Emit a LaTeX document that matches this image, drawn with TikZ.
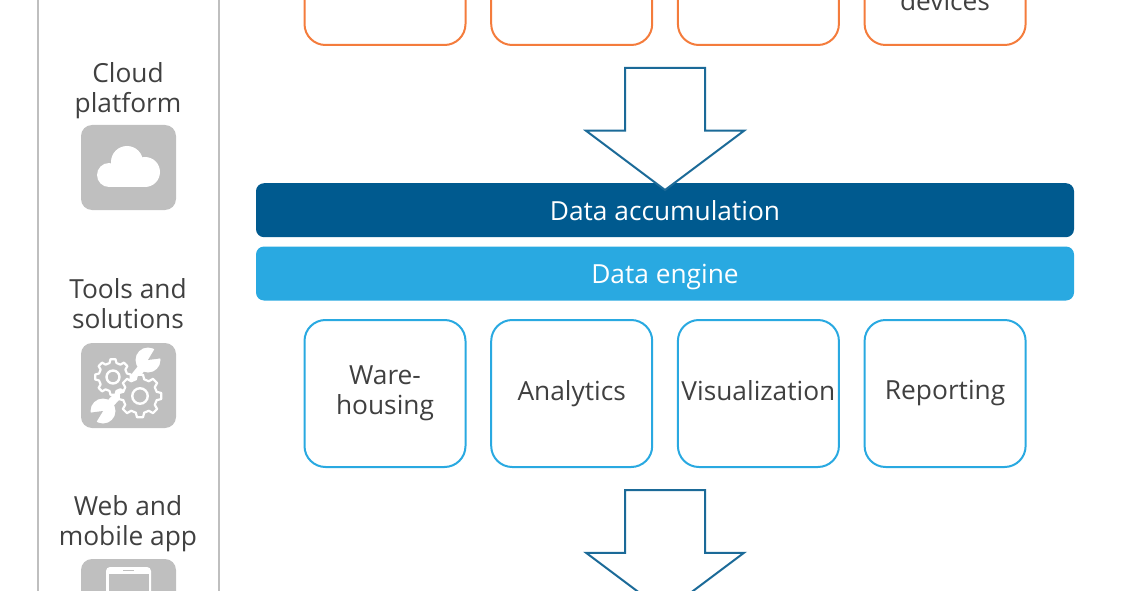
\documentclass[tikz,border=0pt]{standalone}
\usepackage{fontspec}
\setmainfont{Open Sans}
\usepackage{xcolor}
\usetikzlibrary{shapes,arrows,positioning,calc}

\definecolor{darkbar}{HTML}{005A8F}
\definecolor{lightbar}{HTML}{29A9E1}
\definecolor{orangeline}{HTML}{F47C3C}
\definecolor{arrowline}{HTML}{1B6A98}
\definecolor{tilegray}{HTML}{BFBFBF}
\definecolor{textgray}{HTML}{404040}

\newcommand{\geargraphic}[3]{%
  \begin{scope}[shift={(#1,#2)}]
    \draw[white, line width=2.2pt, fill=tilegray, line join=round]
      (-14:#3*0.8) \foreach \a in {0,45,...,315} {
        -- (\a-14:#3*0.8) -- (\a-8:#3) -- (\a+8:#3) -- (\a+14:#3*0.8)
      } -- cycle;
    \draw[white, line width=2.4pt] (0,0) circle ({#3*0.36});
  \end{scope}}

\newcommand{\wrenchgraphic}[5]{%
  \draw[white, line width=8pt] (#1,#2) -- (#3,#4);
  \fill[white] (#3,#4) circle (12.5);
  \fill[tilegray] (#3,#4) -- ++(#5-24:17) -- ++(#5+90:15) -- cycle;}

\begin{document}
\begin{tikzpicture}[x=1pt, y=-1pt, node distance=25.7pt,
    txt/.style={font=\fontsize{26.3}{30}\selectfont, text=textgray, align=center},
    sidelabel/.style={txt, inner sep=0pt},
    panelbox/.style={rectangle, draw=tilegray, line width=2.4pt, minimum width=181pt, minimum height=700pt, outer sep=0pt},
    tile/.style={rectangle, fill=tilegray, rounded corners=11pt, minimum width=95pt, minimum height=85pt, inner sep=0pt, outer sep=0pt},
    bar/.style={rectangle, rounded corners=8pt, minimum width=818pt, minimum height=54pt, inner sep=0pt, outer sep=0pt, text=white, text height=22pt, text depth=3pt, font=\fontsize{26.3}{30}\selectfont},
    stepbox/.style={rectangle, draw, line width=2pt, rounded corners=21pt, fill=white, minimum width=161pt, minimum height=147pt, inner sep=0pt, outer sep=0pt, txt},
    blockarrow/.style={single arrow, draw=arrowline, fill=white, line width=2pt, rotate=-90, anchor=tip, minimum width=157pt, minimum height=122pt, single arrow head extend=39pt, single arrow tip angle=106.26, inner xsep=0pt, inner ysep=39pt, outer sep=0pt}]

    \useasboundingbox (0,0) rectangle (1130,591);
    \clip (0,0) rectangle (1130,591);

    % left panel
    \node[panelbox] (panel) at (128.5,296) {};
    \node[sidelabel] (cloudlabel) at (128,91) {Cloud\\platform};
    \node[tile] (cloudtile) at (128.5,167.5) {};
    \node[sidelabel] (toolslabel) at (128,304) {Tools and\\solutions};
    \node[tile] (toolstile) at (128.5,385.5) {};
    \node[sidelabel] (weblabel) at (128,524) {Web and\\mobile app};
    \node[tile] (webtile) at (128.5,601.5) {};

    % cloud
    \fill[white] (127,162) circle (16);
    \fill[white] (109,175) circle (12);
    \fill[white] (145,172) circle (15);
    \fill[white] (109,165) rectangle (145,187);

    % tools
    \wrenchgraphic{128}{385}{148}{360}{-35}
    \wrenchgraphic{128}{385}{103}{411}{145}
    \geargraphic{113}{377}{18}
    \geargraphic{140}{396}{21.5}

    % phone
    \fill[white, rounded corners=4pt] (106,567) rectangle (151,610);
    \fill[tilegray] (108.5,574) rectangle (148.5,610);
    \draw[tilegray, line width=1pt] (123,570.5) -- (134,570.5);

    % top row
    \node[stepbox, draw=orangeline] (src1) at (385,-28.5) {};
    \node[stepbox, draw=orangeline, right=of src1] (src2) {};
    \node[stepbox, draw=orangeline, right=of src2] (src3) {};
    \node[stepbox, draw=orangeline, right=of src3] (src4) {};
    \node[txt, inner sep=0pt] (devices) at (945,1) {devices};

    % bars
    \node[bar, fill=darkbar, text height=24pt] (accum) at (665,210.2) {Data accumulation};
    \node[bar, fill=lightbar, below=9.3pt of accum] (engine) {Data engine};

    % bottom row
    \node[stepbox, draw=lightbar] (out1) at (385,393.5) {Ware-\\housing};
    \node[stepbox, draw=lightbar, right=of out1] (out2) {\vphantom{Ag}Analytics};
    \node[stepbox, draw=lightbar, right=of out2] (out3) {\vphantom{Ag}Visualization};
    \node[stepbox, draw=lightbar, right=of out3] (out4) {\vphantom{Ag}Reporting};

    % arrows
    \node[blockarrow] (arrowin) at (665,190) {};
    \node[blockarrow] (arrowout) at (665,612) {};
\end{tikzpicture}
\end{document}
